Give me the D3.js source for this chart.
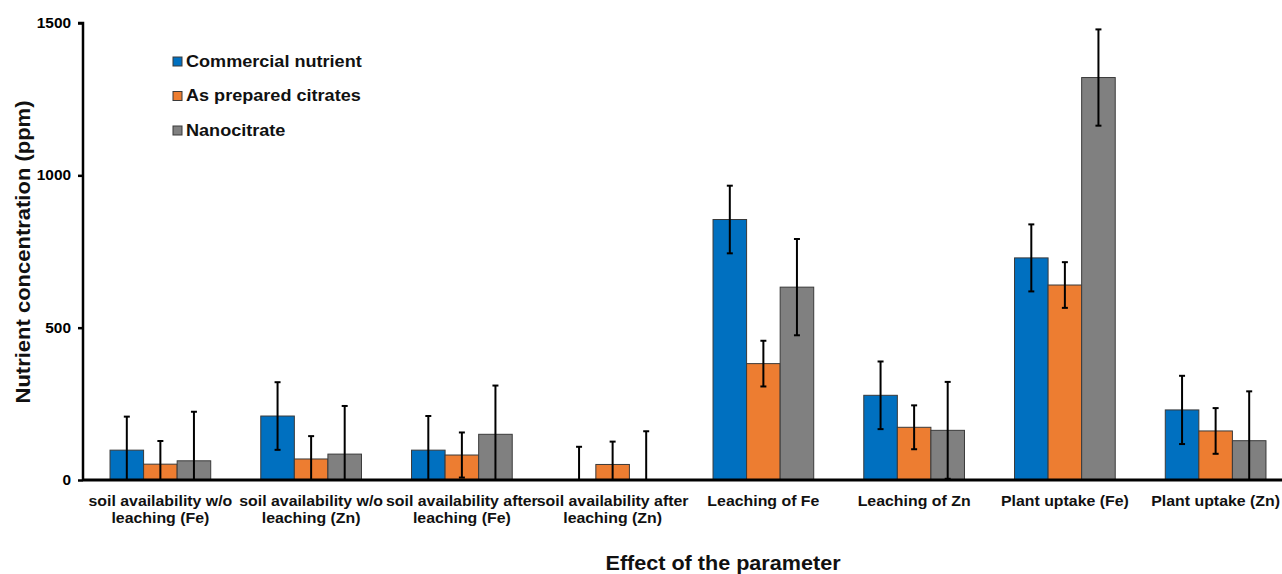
<!DOCTYPE html>
<html>
<head>
<meta charset="utf-8">
<script src="https://cdn.jsdelivr.net/npm/d3@7/dist/d3.min.js"></script>
<style>
  body { margin: 0; background: #fff; }
  svg { display: block; font-family: "Liberation Sans", Arial, sans-serif; font-weight: bold; }
</style>
</head>
<body>
<svg id="chart" width="1282" height="574"></svg>
<script>
const categories = [
  "soil availability w/o\nleaching (Fe)",
  "soil availability w/o\nleaching (Zn)",
  "soil availability after\nleaching (Fe)",
  "soil availability after\nleaching (Zn)",
  "Leaching of Fe",
  "Leaching of Zn",
  "Plant uptake (Fe)",
  "Plant uptake (Zn)"
];
const seriesNames = ["Commercial nutrient", "As prepared citrates", "Nanocitrate"];
const commercial    = [98, 210, 98, 0, 855, 278, 729, 230];
const commercialErr = [110, 111, 112, 109, 111, 111, 110, 112];
const citrates      = [52, 69, 82, 51, 382, 173, 640, 161];
const citratesErr   = [76, 75, 74, 75, 75, 72, 75, 75];
const nano          = [63, 85, 150, 0, 633, 163, 1321, 129];
const nanoErr       = [161, 158, 160, 160, 158, 159, 158, 162];
const yTicks = [0, 500, 1000, 1500];
const colors = ["#0070C0", "#ED7D31", "#808080"];

const values = [commercial, citrates, nano];
const errs = [commercialErr, citratesErr, nanoErr];

const svg = d3.select("#chart");
const x0 = d3.scaleBand().domain(categories).range([85, 1291]).paddingInner(0.332).paddingOuter(0.166);
const x1 = d3.scaleBand().domain(seriesNames).range([0, x0.bandwidth()]);
const y = d3.scaleLinear().domain([0, 1500]).range([480, 23]);

const data = [];
categories.forEach((c, i) => {
  seriesNames.forEach((s, j) => {
    data.push({cat: c, ser: s, v: values[j][i], e: errs[j][i], color: colors[j]});
  });
});

// bars
svg.append("g").selectAll("rect").data(data).join("rect")
  .attr("x", d => x0(d.cat) + x1(d.ser))
  .attr("y", d => y(d.v))
  .attr("width", x1.bandwidth())
  .attr("height", d => y(0) - y(d.v))
  .attr("fill", d => d.color)
  .attr("stroke", "#3a3a3a")
  .attr("stroke-width", 1);

// error bars
const eg = svg.append("g").attr("stroke", "#000").attr("stroke-width", 2);
data.forEach(d => {
  const cx = x0(d.cat) + x1(d.ser) + x1.bandwidth() / 2;
  const hi = d.v + d.e;
  const lo = Math.max(0, d.v - d.e);
  eg.append("line").attr("x1", cx).attr("x2", cx).attr("y1", y(hi)).attr("y2", y(lo));
  eg.append("line").attr("x1", cx - 3).attr("x2", cx + 3).attr("y1", y(hi)).attr("y2", y(hi));
  if (d.v - d.e >= 0) {
    eg.append("line").attr("x1", cx - 3).attr("x2", cx + 3).attr("y1", y(lo)).attr("y2", y(lo));
  }
});

// y axis
const yAxis = svg.append("g").attr("transform", "translate(83,0)")
  .call(d3.axisLeft(y).tickValues(yTicks).tickSize(5).tickPadding(7).tickFormat(d3.format("d")));
yAxis.select(".domain").attr("stroke-width", 2.5).attr("d", "M-5,23H0V480");
yAxis.selectAll(".tick line").attr("stroke-width", 2.5);
yAxis.selectAll(".tick text")
  .attr("x", 0)
  .attr("transform", "translate(-12,0) scale(1.1,1)")
  .attr("font-size", 14).attr("font-weight", "bold")
  .attr("font-family", '"Liberation Sans", Arial, sans-serif').attr("fill", "#000");

// x axis line
const xAxis = svg.append("g").attr("transform", "translate(0,480)")
  .call(d3.axisBottom(x0).tickSize(0).tickFormat(""));
xAxis.select(".domain").attr("stroke-width", 3).attr("d", "M83,0H1282");

// category labels
categories.forEach(c => {
  const lines = c.split("\n");
  const cx = x0(c) + x0.bandwidth() / 2;
  const t = svg.append("text")
    .attr("transform", `translate(${cx},505.5) scale(1.06,1)`)
    .attr("text-anchor", "middle")
    .attr("font-size", 15)
    .attr("fill", "#111");
  lines.forEach((l, k) => {
    t.append("tspan").attr("x", 0).attr("dy", k === 0 ? 0 : 17.5).text(l);
  });
});

// axis titles
svg.append("text").attr("transform", "translate(723,569.5) scale(1.08,1)").attr("text-anchor", "middle")
  .attr("font-size", 20).attr("fill", "#111").text("Effect of the parameter");
svg.append("text").attr("transform", "translate(30,252) rotate(-90) scale(1.1,1)").attr("text-anchor", "middle")
  .attr("font-size", 20).attr("fill", "#111").text("Nutrient concentration (ppm)");

// legend
const lg = svg.append("g");
seriesNames.forEach((s, j) => {
  const yy = 57 + j * 34.5;
  lg.append("rect").attr("x", 173).attr("y", yy).attr("width", 9).attr("height", 9)
    .attr("fill", colors[j]).attr("stroke", "#3a3a3a").attr("stroke-width", 1);
  lg.append("text").attr("transform", `translate(186,${yy + 9.7}) scale(1.13,1)`)
    .attr("font-size", 16).attr("fill", "#111").text(s);
});
</script>
</body>
</html>
